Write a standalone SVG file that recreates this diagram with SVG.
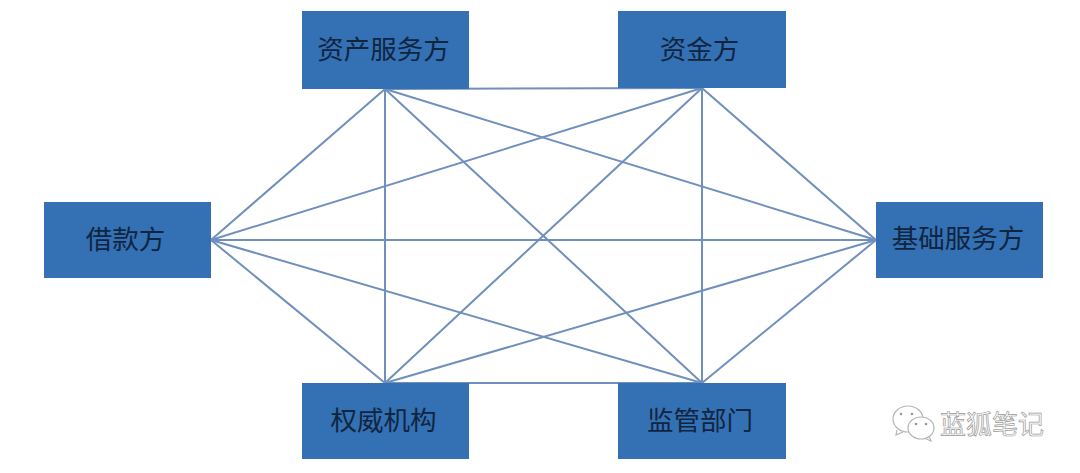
<svg xmlns="http://www.w3.org/2000/svg" width="1080" height="473" viewBox="0 0 1080 473">
<style>
.box{fill:#3470b4}
.t{font-family:"Noto Sans CJK SC","Liberation Sans",sans-serif;font-size:26.5px;fill:#10253f;text-anchor:middle}
.c line{stroke:#6f8fbc;stroke-width:2}
.wm{font-family:"Noto Sans CJK SC","Liberation Sans",sans-serif;font-size:26px;fill:#fff;stroke:#9a9a9a;stroke-width:.7px;text-anchor:middle}
.ic{fill:#fff;stroke:#b5b5b5;stroke-width:1.2}
.d{fill:#999}
</style>
<rect width="1080" height="473" fill="#fff"/>
<g id="connectors" class="c">
<line x1="385" y1="89" x2="702" y2="88"/>
<line x1="385" y1="383" x2="702" y2="383"/>
<line x1="211" y1="240" x2="876" y2="240"/>
<line x1="385" y1="89" x2="385" y2="383"/>
<line x1="702" y1="88" x2="702" y2="383"/>
<line x1="211" y1="240" x2="385" y2="89"/>
<line x1="211" y1="240" x2="702" y2="88"/>
<line x1="211" y1="240" x2="385" y2="383"/>
<line x1="211" y1="240" x2="702" y2="383"/>
<line x1="876" y1="240" x2="385" y2="89"/>
<line x1="876" y1="240" x2="702" y2="88"/>
<line x1="876" y1="240" x2="385" y2="383"/>
<line x1="876" y1="240" x2="702" y2="383"/>
<line x1="385" y1="89" x2="702" y2="383"/>
<line x1="702" y1="88" x2="385" y2="383"/>
</g>
<g id="n1"><rect class="box" x="302" y="11" width="167" height="78"/><text class="t" x="383.500" y="59">资产服务方</text></g>
<g id="n2"><rect class="box" x="618" y="11" width="168" height="77"/><text class="t" x="699.500" y="59">资金方</text></g>
<g id="n3"><rect class="box" x="44" y="202" width="167" height="76"/><text class="t" x="125.500" y="249">借款方</text></g>
<g id="n4"><rect class="box" x="876" y="202" width="167" height="76"/><text class="t" x="958" y="248">基础服务方</text></g>
<g id="n5"><rect class="box" x="302" y="383" width="167" height="76"/><text class="t" x="383.500" y="430">权威机构</text></g>
<g id="n6"><rect class="box" x="618" y="383" width="168" height="76"/><text class="t" x="700" y="430">监管部门</text></g>
<g id="watermark">
<path class="ic" d="M897 430l-1 5 7-3"/>
<ellipse class="ic" cx="908" cy="419" rx="15" ry="13"/>
<path class="ic" d="M929 436l2 5-7-3"/>
<ellipse class="ic" cx="921" cy="428" rx="13" ry="11"/>
<circle class="d" cx="901" cy="414" r="1.3"/><circle class="d" cx="912" cy="414" r="1.3"/>
<circle class="d" cx="916" cy="424" r="1.3"/><circle class="d" cx="926" cy="424" r="1.3"/>
<text class="wm" x="992" y="434">蓝狐笔记</text>
</g>
</svg>
